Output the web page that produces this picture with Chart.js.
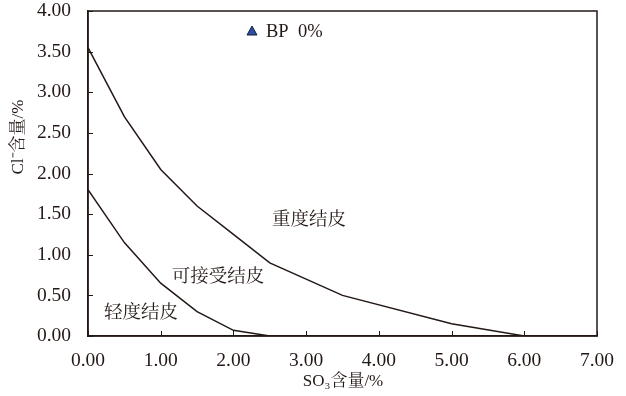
<!DOCTYPE html>
<html>
<head>
<meta charset="utf-8">
<script src="https://cdn.jsdelivr.net/npm/chart.js@4"></script>
<style>
  body { margin: 0; background: #fff; }
  #wrap { width: 626px; height: 396px; }
</style>
</head>
<body>
<div id="wrap"><canvas id="chart"></canvas></div>
<script>
// data
const heavyX = [0, 0.5, 1, 1.5, 2, 2.5, 3.5, 5, 6];
const heavyY = [3.55, 2.7, 2.05, 1.6, 1.25, 0.9, 0.5, 0.15, 0];
const lightX = [0, 0.5, 1, 1.5, 2, 2.5];
const lightY = [1.8, 1.15, 0.65, 0.3, 0.07, 0];
const xTicks = [0, 1, 2, 3, 4, 5, 6, 7];
const yTicks = [0, 0.5, 1, 1.5, 2, 2.5, 3, 3.5, 4];

const serif = "'Liberation Serif', 'Noto Sans CJK SC', serif";
const cjk = "'Liberation Serif', 'Noto Serif CJK SC', 'Noto Sans CJK SC', serif";

const toPts = (xs, ys) => xs.map((x, i) => ({ x: x, y: ys[i] }));

// box, inward ticks, region labels, legend, axis titles
const decor = {
  id: "decor",
  afterDraw(chart) {
    const ctx = chart.ctx;
    const a = chart.chartArea;
    const xs = chart.scales.x, ys = chart.scales.y;
    ctx.save();
    ctx.strokeStyle = "#231815";
    ctx.lineWidth = 1.5;
    ctx.strokeRect(a.left, a.top, a.right - a.left, a.bottom - a.top);
    ctx.lineWidth = 1;
    ctx.beginPath();
    xTicks.forEach(v => {
      const px = Math.round(xs.getPixelForValue(v)) + 0.5;
      ctx.moveTo(px, a.bottom); ctx.lineTo(px, a.bottom - 5);
    });
    yTicks.forEach(v => {
      const py = Math.round(ys.getPixelForValue(v)) + 0.5;
      ctx.moveTo(a.left, py); ctx.lineTo(a.left + 5, py);
    });
    ctx.stroke();

    ctx.fillStyle = "#231815";
    ctx.font = "18.5px " + cjk;
    ctx.textAlign = "center";
    ctx.textBaseline = "middle";
    ctx.fillText("重度结皮", 309, 220);
    ctx.fillText("可接受结皮", 218, 277);
    ctx.fillText("轻度结皮", 141, 313);

    // legend
    ctx.fillStyle = "#2a4f9e";
    ctx.strokeStyle = "#1a1a3a";
    ctx.beginPath();
    ctx.moveTo(252, 26); ctx.lineTo(257, 35); ctx.lineTo(247, 35); ctx.closePath();
    ctx.fill(); ctx.stroke();
    ctx.fillStyle = "#231815";
    ctx.font = "18.5px " + serif;
    ctx.textAlign = "left";
    ctx.fillText("BP  0%", 266, 32);

    // axis titles
    ctx.textAlign = "center";
    ctx.font = "17px " + cjk;
    ctx.fillText("SO\u2083含量/%", 343, 382);
    ctx.translate(19, 137);
    ctx.rotate(-Math.PI / 2);
    ctx.fillText("Cl\u207B含量/%", 0, 0);
    ctx.restore();
  }
};

new Chart(document.getElementById("chart"), {
  type: "scatter",
  data: {
    datasets: [
      {
        label: "upper",
        data: toPts(heavyX, heavyY),
        showLine: true,
        borderColor: "#231815",
        borderWidth: 1.5,
        pointRadius: 0,
        tension: 0,
      },
      {
        label: "lower",
        data: toPts(lightX, lightY),
        showLine: true,
        borderColor: "#231815",
        borderWidth: 1.5,
        pointRadius: 0,
        tension: 0,
      },
    ],
  },
  options: {
    responsive: true,
    maintainAspectRatio: false,
    animation: false,
    layout: { padding: { top: 11, right: 29, left: 0, bottom: 0 } },
    plugins: { legend: { display: false }, tooltip: { enabled: false } },
    scales: {
      x: {
        type: "linear",
        min: 0, max: 7,
        afterBuildTicks: s => { s.ticks = xTicks.map(v => ({ value: v })); },
        afterFit: s => { s.height = 60; s.paddingLeft = 0; s.paddingRight = 0; },
        grid: { display: false },
        border: { display: true, color: "#231815", width: 1.5 },
        ticks: {
          color: "#231815",
          font: { family: serif, size: 19.5 },
          padding: 5,
          callback: v => v.toFixed(2),
        },
      },
      y: {
        min: 0, max: 4,
        afterBuildTicks: s => { s.ticks = yTicks.map(v => ({ value: v })); },
        afterFit: s => { s.width = 88; s.paddingTop = 0; s.paddingBottom = 0; },
        grid: { display: false },
        border: { display: true, color: "#231815", width: 1.5 },
        ticks: {
          color: "#231815",
          font: { family: serif, size: 19.5 },
          padding: 9,
          callback: v => v.toFixed(2),
        },
      },
    },
  },
  plugins: [decor],
});
</script>
</body>
</html>
